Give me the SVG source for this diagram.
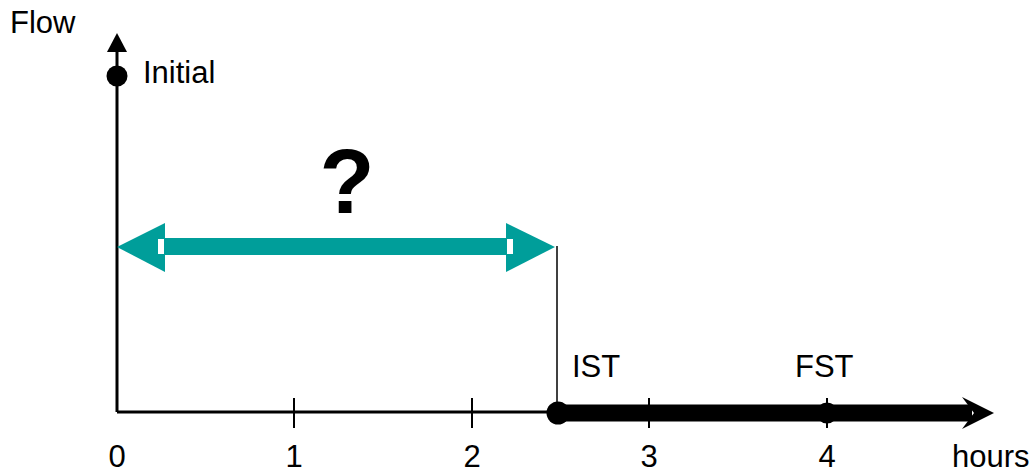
<svg xmlns="http://www.w3.org/2000/svg" width="1036" height="475" viewBox="0 0 1036 475">
  <style>
    text { font-family: "Liberation Sans", Arial, sans-serif; font-size: 31px; fill: #000; }
    .mid { text-anchor: middle; }
    .tick { stroke: #000; stroke-width: 2; }
    .teal { fill: #009E9A; }
  </style>
  <rect width="1036" height="475" fill="#fff"/>

  <g id="connectors">
    <!-- vertical axis -->
    <line x1="117" y1="412" x2="117" y2="50" stroke="#000" stroke-width="3"/>
    <polygon points="117,33 107,52 127,52" fill="#000"/>
    <!-- horizontal axis, thin part -->
    <line x1="117" y1="412" x2="560" y2="412" stroke="#000" stroke-width="3"/>
    <!-- horizontal axis, thick part -->
    <line x1="558" y1="413" x2="972" y2="413" stroke="#000" stroke-width="17"/>
    <polygon points="994,413 962,397 974,413 962,429" fill="#000"/>
    <!-- ticks -->
    <line class="tick" x1="294" y1="398" x2="294" y2="428"/>
    <line class="tick" x1="472" y1="398" x2="472" y2="428"/>
    <line class="tick" x1="649" y1="398" x2="649" y2="428"/>
    <line class="tick" x1="827" y1="398" x2="827" y2="428"/>
    <!-- IST marker line -->
    <line x1="557" y1="246" x2="557" y2="412" stroke="#000" stroke-width="1.5"/>
    <!-- double-headed duration arrow -->
    <rect class="teal" x="164" y="238" width="344" height="17"/>
    <polygon class="teal" points="117,247 165,223 165,272"/>
    <polygon class="teal" points="555,247 506,223 506,272"/>
    <rect x="158" y="239" width="6" height="15" fill="#fff"/>
    <rect x="507" y="239" width="6" height="15" fill="#fff"/>
  </g>

  <g id="initial">
    <circle cx="117" cy="76" r="10.5" fill="#000"/>
    <text x="143" y="83">Initial</text>
  </g>
  <g id="ist">
    <circle cx="558" cy="413" r="11.5" fill="#000"/>
    <text x="572" y="377">IST</text>
  </g>
  <g id="fst">
    <circle cx="827" cy="413" r="10.5" fill="#000"/>
    <text x="795" y="377">FST</text>
  </g>
  <g id="question">
    <text x="347" y="213" class="mid" style="font-size:90px;font-weight:bold">?</text>
  </g>
  <g id="labels">
    <text x="10" y="33">Flow</text>
    <text x="117" y="467" class="mid">0</text>
    <text x="294" y="467" class="mid">1</text>
    <text x="472" y="467" class="mid">2</text>
    <text x="649" y="467" class="mid">3</text>
    <text x="827" y="467" class="mid">4</text>
    <text x="952" y="467">hours</text>
  </g>
</svg>
